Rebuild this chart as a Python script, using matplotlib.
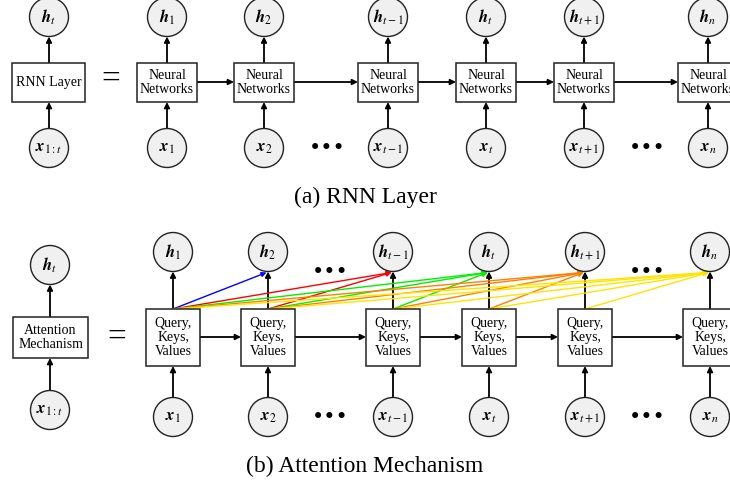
import matplotlib
matplotlib.use("Agg")
import matplotlib.pyplot as plt
from matplotlib.patches import Circle, Rectangle, FancyArrowPatch

plt.rcParams['mathtext.fontset'] = 'stix'
plt.rcParams['font.family'] = ['Liberation Serif', 'DejaVu Serif']

# ---- content ----
h_labels = [r'$\boldsymbol{h}_1$', r'$\boldsymbol{h}_2$', r'$\boldsymbol{h}_{t-1}$',
            r'$\boldsymbol{h}_t$', r'$\boldsymbol{h}_{t+1}$', r'$\boldsymbol{h}_n$']
x_labels = [r'$\boldsymbol{x}_1$', r'$\boldsymbol{x}_2$', r'$\boldsymbol{x}_{t-1}$',
            r'$\boldsymbol{x}_t$', r'$\boldsymbol{x}_{t+1}$', r'$\boldsymbol{x}_n$']
h_summary = r'$\boldsymbol{h}_t$'
x_summary = r'$\boldsymbol{x}_{1:t}$'
rnn_box_label = 'Neural\nNetworks'
rnn_summary_label = 'RNN Layer'
att_box_label = 'Query,\nKeys,\nValues'
att_summary_label = 'Attention\nMechanism'
caption_a = '(a) RNN Layer'
caption_b = '(b) Attention Mechanism'
# attention edges: (source column, target column)
att_edges = [(0, 1),
             (0, 2), (1, 2),
             (0, 3), (1, 3), (2, 3),
             (0, 4), (1, 4), (2, 4), (3, 4),
             (0, 5), (1, 5), (2, 5), (3, 5), (4, 5)]
target_colors = {1: '#0000ff', 2: '#ff0000', 3: '#00f000', 4: '#ff8000', 5: '#ffe400'}
# columns after which "..." appears
gap_after = [1, 4]

# ---- layout (pixel coordinates) ----
W, H = 730, 484
fig = plt.figure(figsize=(W / 100, H / 100), dpi=100)
ax = fig.add_axes([0, 0, 1, 1])
ax.set_xlim(0, W)
ax.set_ylim(H, 0)
ax.axis('off')

R = 19.5
CFILL = '#f0f0f0'
BOXFS = 10
MATHFS = 12


def circle(x, y, label):
    ax.add_patch(Circle((x, y), R, facecolor=CFILL, edgecolor='#222222', lw=1.0, zorder=3))
    ax.text(x, y, label, ha='center', va='center', fontsize=MATHFS, zorder=4)


def box(x0, x1, y0, y1, label, ls):
    ax.add_patch(Rectangle((x0, y0), x1 - x0, y1 - y0, facecolor='white',
                           edgecolor='#222222', lw=1.1, zorder=3))
    ax.text((x0 + x1) / 2, (y0 + y1) / 2, label, ha='center', va='center',
            fontsize=BOXFS, linespacing=ls, zorder=4)


def arrow(p0, p1, color='black', lw=1.3, ms=8):
    ax.add_patch(FancyArrowPatch(p0, p1, arrowstyle='-|>', mutation_scale=ms,
                                 color=color, lw=lw, shrinkA=0, shrinkB=0, zorder=2))


def dots(x, y):
    ax.text(x, y, '\u2022\u2022\u2022', ha='center', va='center', fontsize=15,
            family='DejaVu Sans')


# ---------- panel (a) ----------
cols_a = [167, 264, 388, 486, 584, 708]
hw_a = 30
by0_a, by1_a = 63, 102
hy_a, xy_a = 17, 148

# summary column
circle(49, hy_a, h_summary)
box(12, 85, by0_a, by1_a, rnn_summary_label, 1.05)
circle(49, xy_a, x_summary)
arrow((49, xy_a - R), (49, by1_a))
arrow((49, by0_a), (49, hy_a + R))
ax.text(111, 79, '=', ha='center', va='center', fontsize=24)

for i, cx in enumerate(cols_a):
    circle(cx, hy_a, h_labels[i])
    box(cx - hw_a, cx + hw_a, by0_a, by1_a, rnn_box_label, 1.05)
    circle(cx, xy_a, x_labels[i])
    arrow((cx, xy_a - R), (cx, by1_a))
    arrow((cx, by0_a), (cx, hy_a + R))
    if i + 1 < len(cols_a):
        arrow((cx + hw_a, 82), (cols_a[i + 1] - hw_a, 82))
for g in gap_after:
    dots((cols_a[g] + cols_a[g + 1]) / 2 + 1, xy_a)

ax.text(365, 197, caption_a, ha='center', va='center', fontsize=17)

# ---------- panel (b) ----------
cols_b = [173, 268, 393, 489, 585, 710]
hw_b = 27
by0_b, by1_b = 309, 366
hy_b, xy_b = 252, 417
ay_b = 337

circle(50, 265, h_summary)
box(13, 88, 317, 358, att_summary_label, 1.12)
circle(50, 410, x_summary)
arrow((50, 410 - R), (50, 358))
arrow((50, 317), (50, 265 + R))
ax.text(117, 337, '=', ha='center', va='center', fontsize=24)

for i, cx in enumerate(cols_b):
    circle(cx, hy_b, h_labels[i])
    box(cx - hw_b, cx + hw_b, by0_b, by1_b, att_box_label, 1.12)
    circle(cx, xy_b, x_labels[i])
    arrow((cx, xy_b - R), (cx, by1_b))
    arrow((cx, by0_b), (cx, hy_b + R))
    if i + 1 < len(cols_b):
        arrow((cx + hw_b, ay_b), (cols_b[i + 1] - hw_b, ay_b))

for s, t in att_edges:
    arrow((cols_b[s], by0_b), (cols_b[t] - 1.5, hy_b + R + 1),
          color=target_colors[t], lw=1.0, ms=7)

for g in gap_after:
    dots((cols_b[g] + cols_b[g + 1]) / 2, 272)
    dots((cols_b[g] + cols_b[g + 1]) / 2, xy_b)

ax.text(365, 466, caption_b, ha='center', va='center', fontsize=17)

fig.savefig('out.png', dpi=100)
